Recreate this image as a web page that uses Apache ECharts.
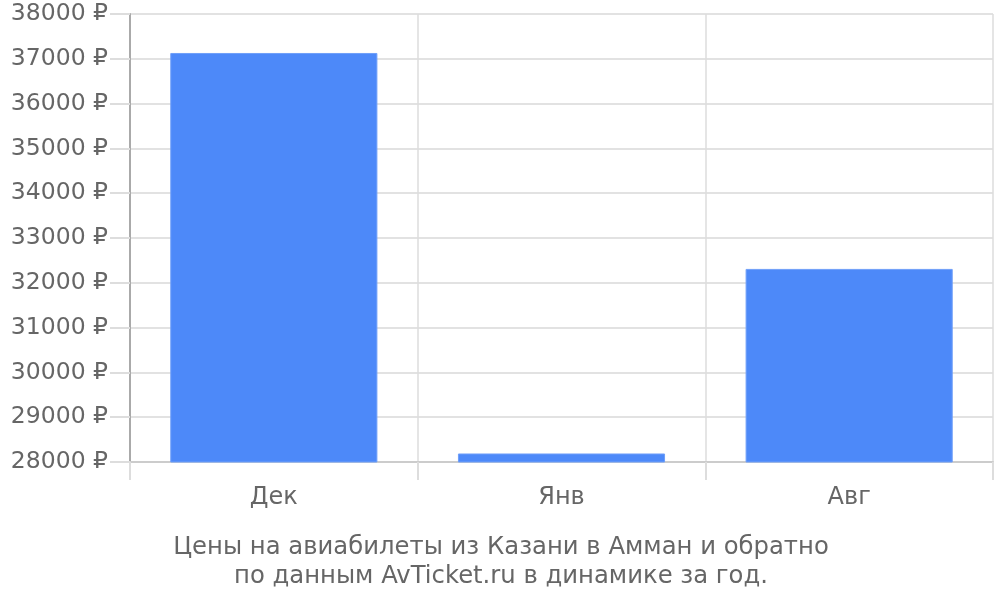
<!DOCTYPE html>
<html><head><meta charset="utf-8">
<script src="https://cdn.jsdelivr.net/npm/echarts@6/dist/echarts.min.js"></script>
<style>html,body{margin:0;padding:0;background:#fff}#c{width:1000px;height:600px}</style>
</head><body><div id="c"></div>
<script>
var categories = ['Дек', 'Янв', 'Авг'];
var prices = [37130, 28190, 32310];
var titleLines = ['Цены на авиабилеты из Казани в Амман и обратно', 'по данным AvTicket.ru в динамике за год.'];

var chart = echarts.init(document.getElementById('c'));
chart.setOption({
  animation: false,
  backgroundColor: '#fff',
  textStyle: { fontFamily: 'DejaVu Sans' },
  title: {
    text: titleLines.join('\n'),
    left: 496,
    top: 528,
    textAlign: 'center',
    textStyle: { fontFamily: 'DejaVu Sans', fontSize: 24.3, fontWeight: 'normal', color: '#666', lineHeight: 29, align: 'center' }
  },
  grid: { left: 130, right: 7, top: 14, bottom: 138 },
  xAxis: {
    type: 'category',
    data: categories,
    boundaryGap: true,
    axisLine: { show: true, lineStyle: { color: '#ccc', width: 2 } },
    axisTick: { show: true, length: 18, lineStyle: { color: '#ddd', width: 2 } },
    splitLine: { show: true, lineStyle: { color: '#ddd', width: 1.5 } },
    axisLabel: { fontSize: 24, color: '#666', margin: 24, fontFamily: 'DejaVu Sans' }
  },
  yAxis: {
    type: 'value',
    min: 28000,
    max: 38000,
    interval: 1000,
    axisLine: { show: true, lineStyle: { color: '#aaa', width: 2 } },
    axisTick: { show: true, length: 20, lineStyle: { color: '#ddd', width: 2 } },
    splitLine: { show: true, lineStyle: { color: '#e2e2e2', width: 2 } },
    axisLabel: { fontSize: 23.5, color: '#666', margin: 22, fontFamily: 'DejaVu Sans', formatter: function (v) { return String(v) + ' ₽'; } }
  },
  series: [{
    type: 'bar',
    data: prices,
    barWidth: '72%',
    itemStyle: { color: '#4d89f9', borderColor: '#6f9ff9', borderWidth: 1 }
  }]
});
</script></body></html>
